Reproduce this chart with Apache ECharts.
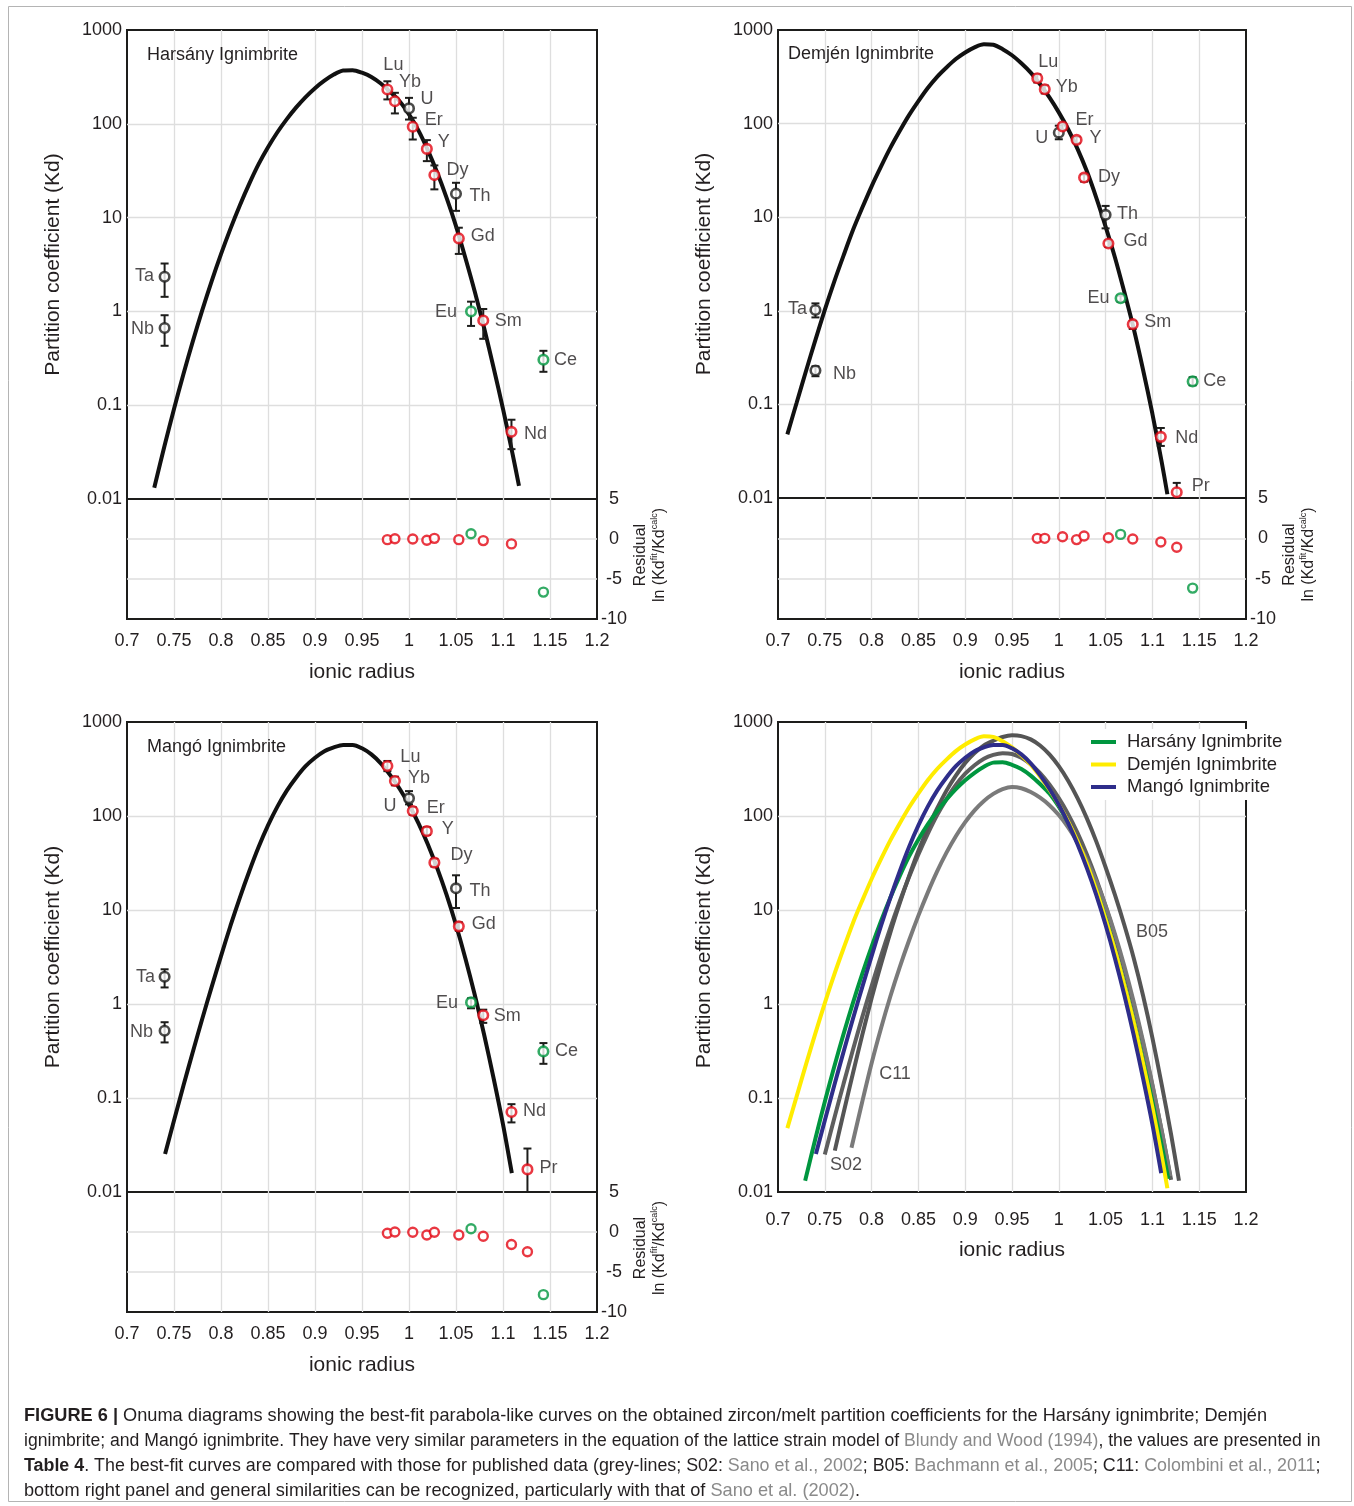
<!DOCTYPE html>
<html><head><meta charset="utf-8">
<script src="https://cdn.jsdelivr.net/npm/echarts@6/dist/echarts.min.js"></script>
<style>html,body{margin:0;padding:0;background:#fff}#c{width:1354px;height:1506px}</style>
</head><body><div id="c"></div>
<script>
// ---------------- DATA ----------------
const ELEMENTS = ['Lu','Yb','U','Er','Y','Dy','Th','Gd','Eu','Sm','Nd','Pr','Ce','Ta','Nb'];
const RADII    = [0.977,0.985,1.000,1.004,1.019,1.027,1.050,1.053,1.066,1.079,1.109,1.126,1.143,0.740,0.740];

// Harsány Ignimbrite (Kd, error-bar ends, residuals)
const HARSANY_KD   = [232,174,146,93,54,28.4,18,6.0,1.0,0.80,0.052,null,0.305,2.34,0.665];
const HARSANY_LOW  = [182,129,111,68,40,20,11.8,4.1,0.70,0.51,0.034,null,0.227,1.43,0.43];
const HARSANY_HIGH = [284,214,189,116,67,36,23.5,7.8,1.27,1.06,0.070,null,0.38,3.24,0.91];
const HARSANY_RES  = [-0.08,0.04,null,0,-0.16,0.08,null,-0.08,0.66,-0.2,-0.61,null,-6.64,null,null];
// best-fit curve (log10 Kd)
const HARSANY_FIT_X   = [0.729,0.74,0.75,0.76,0.77,0.78,0.79,0.80,0.81,0.82,0.83,0.84,0.85,0.86,0.87,0.88,0.89,0.90,0.91,0.92,0.93,0.94,0.95,0.96,0.97,0.98,0.99,1.00,1.01,1.02,1.03,1.04,1.05,1.06,1.07,1.08,1.09,1.10,1.11,1.117];
const HARSANY_FIT_LOG = [-1.88,-1.43,-1.04,-0.67,-0.32,0.01,0.32,0.61,0.88,1.13,1.36,1.57,1.75,1.91,2.05,2.175,2.285,2.38,2.46,2.525,2.568,2.572,2.545,2.50,2.43,2.34,2.24,2.10,1.93,1.72,1.48,1.21,0.91,0.57,0.21,-0.18,-0.60,-1.04,-1.51,-1.86];

// Demjén Ignimbrite
const DEMJEN_KD   = [305,233,80,93,67,26.5,10.6,5.24,1.36,0.72,0.045,0.0115,0.176,1.02,0.23];
const DEMJEN_LOW  = [275,210,68,86,62,24,7.6,4.8,1.25,0.64,0.036,0.0095,0.16,0.85,0.20];
const DEMJEN_HIGH = [335,255,95,100,72,28.5,13.2,5.6,1.45,0.78,0.056,0.0145,0.195,1.2,0.255];
const DEMJEN_RES  = [0,0,null,0.2,-0.16,0.29,null,0.08,0.49,-0.08,-0.45,-1.11,-6.17,null,null];
const DEMJEN_FIT_X   = [0.71,0.72,0.73,0.74,0.75,0.76,0.77,0.78,0.79,0.80,0.81,0.82,0.83,0.84,0.85,0.86,0.87,0.88,0.89,0.90,0.91,0.92,0.93,0.94,0.95,0.96,0.97,0.98,0.99,1.00,1.01,1.02,1.03,1.04,1.05,1.06,1.07,1.08,1.09,1.10,1.11,1.116];
const DEMJEN_FIT_LOG = [-1.32,-0.98,-0.64,-0.31,0.01,0.31,0.59,0.86,1.10,1.33,1.54,1.74,1.92,2.09,2.24,2.38,2.50,2.60,2.69,2.76,2.815,2.848,2.842,2.795,2.73,2.645,2.545,2.42,2.28,2.12,1.94,1.73,1.49,1.21,0.90,0.57,0.20,-0.19,-0.63,-1.10,-1.62,-1.96];

// Mangó Ignimbrite
const MANGO_KD   = [340,236,154,113,69,31.9,17,6.7,1.04,0.76,0.071,0.0174,0.313,1.95,0.52];
const MANGO_LOW  = [300,212,133,103,63,29,10.5,6.0,0.90,0.63,0.055,0.0100,0.231,1.5,0.39];
const MANGO_HIGH = [385,262,184,124,76,35,23.4,7.4,1.15,0.87,0.086,0.029,0.384,2.34,0.64];
const MANGO_RES  = [-0.16,0,null,-0.04,-0.37,-0.04,null,-0.37,0.41,-0.53,-1.56,-2.46,-7.83,null,null];
const MANGO_FIT_X   = [0.7405,0.75,0.76,0.77,0.78,0.79,0.80,0.81,0.82,0.83,0.84,0.85,0.86,0.87,0.88,0.89,0.90,0.91,0.92,0.93,0.94,0.95,0.96,0.97,0.98,0.99,1.00,1.01,1.02,1.03,1.04,1.05,1.06,1.07,1.08,1.09,1.10,1.1094];
const MANGO_FIT_LOG = [-1.595,-1.24,-0.87,-0.51,-0.16,0.18,0.51,0.83,1.13,1.41,1.67,1.90,2.10,2.27,2.41,2.53,2.62,2.69,2.73,2.755,2.755,2.72,2.655,2.56,2.435,2.29,2.12,1.925,1.70,1.445,1.16,0.84,0.485,0.095,-0.33,-0.79,-1.28,-1.80];

// Published curves (grey lines), log10 Kd
const S02_X   = [0.75,0.76,0.77,0.78,0.79,0.80,0.81,0.82,0.83,0.84,0.85,0.86,0.87,0.88,0.89,0.90,0.91,0.92,0.93,0.94,0.95,0.96,0.97,0.98,0.99,1.00,1.01,1.02,1.03,1.04,1.05,1.06,1.07,1.08,1.09,1.10,1.11,1.12];
const S02_LOG = [-1.60,-1.22,-0.85,-0.49,-0.14,0.19,0.51,0.81,1.09,1.35,1.59,1.81,2.01,2.18,2.33,2.45,2.54,2.61,2.65,2.668,2.66,2.62,2.55,2.455,2.335,2.19,2.02,1.82,1.59,1.33,1.04,0.72,0.37,-0.01,-0.42,-0.87,-1.35,-1.87];
const B05_X   = [0.7607,0.77,0.78,0.79,0.80,0.81,0.82,0.83,0.84,0.85,0.86,0.87,0.88,0.89,0.90,0.91,0.92,0.93,0.94,0.95,0.96,0.97,0.98,0.99,1.00,1.01,1.02,1.03,1.04,1.05,1.06,1.07,1.08,1.09,1.10,1.11,1.12,1.1284];
const B05_LOG = [-1.56,-1.16,-0.74,-0.33,0.06,0.42,0.76,1.07,1.36,1.63,1.87,2.08,2.27,2.43,2.565,2.67,2.75,2.80,2.84,2.858,2.85,2.815,2.75,2.655,2.53,2.375,2.19,1.975,1.73,1.455,1.16,0.84,0.49,0.09,-0.36,-0.86,-1.39,-1.88];
const C11_X   = [0.7785,0.79,0.80,0.81,0.82,0.83,0.84,0.85,0.86,0.87,0.88,0.89,0.90,0.91,0.92,0.93,0.94,0.95,0.96,0.97,0.98,0.99,1.00,1.01,1.02,1.03,1.04,1.05,1.06,1.07,1.08,1.09,1.10,1.11,1.119];
const C11_LOG = [-1.53,-1.04,-0.63,-0.26,0.08,0.39,0.675,0.94,1.185,1.41,1.61,1.785,1.935,2.06,2.16,2.235,2.285,2.308,2.295,2.255,2.195,2.115,2.01,1.88,1.72,1.53,1.305,1.045,0.745,0.405,0.025,-0.395,-0.855,-1.355,-1.83];

const CURVE_TAGS   = ['B05','C11','S02'];
const CURVE_TAG_X  = [1.0996,0.825,0.7726];
const CURVE_TAG_KD = [5.83,0.18,0.0194];

const X_MIN = 0.7, X_MAX = 1.2, X_STEP = 0.05;
const KD_MIN = 0.01, KD_MAX = 1000;
const RES_MIN = -10, RES_MAX = 5, RES_STEP = 5;

// ---------------- STYLE ----------------
const FONT = '"Liberation Sans", Arial, Helvetica, sans-serif';
const TXT = '#231f20';
const RED = '#e30613', GREEN = '#00963f', BLACK = '#1d1d1b';
const POINT_COLOR = {Lu:RED,Yb:RED,U:BLACK,Er:RED,Y:RED,Dy:RED,Th:BLACK,Gd:RED,Eu:GREEN,Sm:RED,Nd:RED,Pr:RED,Ce:GREEN,Ta:BLACK,Nb:BLACK};
const LABEL_OFF_H = {Lu:[6,-24],Yb:[15,-19],U:[18,-9],Er:[21,-7],Y:[17,-7],Dy:[23,-5],Th:[24,2],Gd:[24,-2],Eu:[-25,1],Sm:[25,1],Ce:[22,0],Nd:[24,2],Ta:[-20,-1],Nb:[-22,1]};
const LABEL_OFF_D = {Lu:[11,-16],Yb:[22,-2],Er:[22,-7],U:[-17,5],Y:[19,-2],Dy:[25,-1],Th:[22,-1],Gd:[27,-2],Eu:[-22,0],Sm:[25,-2],Ta:[-18,-1],Nb:[29,3],Ce:[22,0],Nd:[26,1],Pr:[24,-6]};
const LABEL_OFF_M = {Lu:[23,-9],Yb:[24,-3],U:[-19,8],Er:[23,-3],Y:[21,-2],Dy:[27,-8],Th:[24,3],Gd:[25,-2],Eu:[-24,1],Sm:[24,1],Ta:[-19,0],Nb:[-23,1],Ce:[23,0],Nd:[23,-1],Pr:[21,-1]};

const PANELS = [
  {title:'Harsány Ignimbrite', titlePos:[147,46], main:{left:127,top:30,width:470,height:469}, res:{left:127,top:499,width:470,height:120},
   kd:HARSANY_KD, lo:HARSANY_LOW, hi:HARSANY_HIGH, resid:HARSANY_RES, fx:HARSANY_FIT_X, fy:HARSANY_FIT_LOG, off:LABEL_OFF_H},
  {title:'Demjén Ignimbrite', titlePos:[788,45], main:{left:778,top:30,width:468,height:468}, res:{left:778,top:498,width:468,height:121},
   kd:DEMJEN_KD, lo:DEMJEN_LOW, hi:DEMJEN_HIGH, resid:DEMJEN_RES, fx:DEMJEN_FIT_X, fy:DEMJEN_FIT_LOG, off:LABEL_OFF_D},
  {title:'Mangó Ignimbrite', titlePos:[147,738], main:{left:127,top:722,width:470,height:470}, res:{left:127,top:1192,width:470,height:120},
   kd:MANGO_KD, lo:MANGO_LOW, hi:MANGO_HIGH, resid:MANGO_RES, fx:MANGO_FIT_X, fy:MANGO_FIT_LOG, off:LABEL_OFF_M}
];

function fmtX(v){ return String(Math.round(v*100)/100); }
function fmtLog(v){ return v >= 1 ? String(Math.round(v)) : String(parseFloat(v.toPrecision(2))); }
// curve values are read as log10(Kd); plot them on the library's log axis as Kd
function curveData(xs, logs){ return xs.map((x,i)=>[x, Math.pow(10, logs[i])]); }

const grids = [], xAxes = [], yAxes = [], series = [], titles = [], graphics = [];
const gridBase = {show:true, borderColor:BLACK, borderWidth:2, backgroundColor:'transparent', containLabel:false, outerBoundsMode:'none'};
const splitX = {show:true, showMinLine:false, showMaxLine:false, lineStyle:{color:'#dedede', width:1.3}};
const lblStyle = {color:TXT, fontSize:18, fontFamily:FONT};
const nameStyle = {fontSize:21, color:TXT, fontFamily:FONT};

function mainAxes(gi, showX){
  xAxes.push({type:'value', gridIndex:gi, min:X_MIN, max:X_MAX, interval:X_STEP,
    axisLine:{show:false}, axisTick:{show:false}, splitLine:splitX,
    axisLabel: showX ? Object.assign({show:true, margin:19, formatter:fmtX}, lblStyle) : {show:false},
    name: showX ? 'ionic radius' : '', nameLocation:'middle', nameGap:48, nameTextStyle:nameStyle});
  yAxes.push({type:'log', logBase:10, gridIndex:gi, min:KD_MIN, max:KD_MAX,
    axisLine:{show:false}, axisTick:{show:false},
    splitLine:{show:true, showMinLine:false, showMaxLine:false, lineStyle:{color:'#dedede', width:1.3}},
    axisLabel:Object.assign({show:true, margin:5, formatter:fmtLog}, lblStyle),
    name:'Partition coefficient (Kd)', nameLocation:'middle', nameGap:63, nameTextStyle:nameStyle});
}

PANELS.forEach((p, pi) => {
  const gm = grids.length;
  grids.push(Object.assign({}, gridBase, p.main));
  mainAxes(gm, false);
  const gr = grids.length;
  grids.push(Object.assign({}, gridBase, p.res));
  xAxes.push({type:'value', gridIndex:gr, min:X_MIN, max:X_MAX, interval:X_STEP,
    axisLine:{show:false}, axisTick:{show:false}, splitLine:splitX,
    axisLabel:Object.assign({show:true, margin:13, formatter:fmtX}, lblStyle),
    name:'ionic radius', nameLocation:'middle', nameGap:43, nameTextStyle:nameStyle});
  yAxes.push({type:'value', gridIndex:gr, position:'right', min:RES_MIN, max:RES_MAX, interval:RES_STEP,
    axisLine:{show:false}, axisTick:{show:false},
    splitLine:{show:true, showMinLine:false, showMaxLine:false, lineStyle:{color:['#dedede','#dedede','#c4c4c4','#dedede'], width:1.5}},
    axisLabel:Object.assign({show:true, margin:17, align:'center'}, lblStyle)});

  titles.push({text:p.title, left:p.titlePos[0], top:p.titlePos[1], padding:0,
    textStyle:{fontSize:18, fontWeight:'normal', color:TXT, fontFamily:FONT}});

  // fitted curve
  series.push({type:'line', name:'fit'+pi, xAxisIndex:gm, yAxisIndex:gm, data:curveData(p.fx,p.fy),
    smooth:0.3, symbol:'none', z:2, silent:true, lineStyle:{color:'#111', width:4}});

  // error bars
  const eb = [];
  ELEMENTS.forEach((el,i)=>{ if(p.kd[i]!=null) eb.push([RADII[i], p.lo[i], p.hi[i]]); });
  series.push({type:'custom', name:'err'+pi, xAxisIndex:gm, yAxisIndex:gm, data:eb, z:3, clip:true, silent:true,
    encode:{x:0, y:[1,2]},
    renderItem:function(params, api){
      const x = api.value(0);
      const a = api.coord([x, api.value(2)]), b = api.coord([x, api.value(1)]);
      const w = 4, st = {stroke:BLACK, lineWidth:2};
      return {type:'group', children:[
        {type:'line', shape:{x1:a[0],y1:a[1],x2:b[0],y2:b[1]}, style:st},
        {type:'line', shape:{x1:a[0]-w,y1:a[1],x2:a[0]+w,y2:a[1]}, style:st},
        {type:'line', shape:{x1:b[0]-w,y1:b[1],x2:b[0]+w,y2:b[1]}, style:st}
      ]};
    }});

  // points
  const pts = [];
  ELEMENTS.forEach((el,i)=>{
    if(p.kd[i]==null) return;
    pts.push({value:[RADII[i], p.kd[i]], name:el,
      itemStyle:{color:'#fff', borderColor:POINT_COLOR[el], borderWidth:2.6},
      label:{offset:p.off[el] || [20,0]}});
  });
  series.push({type:'scatter', name:'pts'+pi, xAxisIndex:gm, yAxisIndex:gm, data:pts, symbol:'circle', symbolSize:9.5, z:5, silent:true,
    label:{show:true, position:'inside', formatter:'{b}', color:TXT, fontSize:18, fontFamily:FONT, align:'center', verticalAlign:'middle'}});

  // residuals
  const rs = [];
  ELEMENTS.forEach((el,i)=>{
    if(p.resid[i]==null) return;
    rs.push({value:[RADII[i], p.resid[i]], itemStyle:{color:'#fff', borderColor:POINT_COLOR[el], borderWidth:2.4}});
  });
  series.push({type:'scatter', name:'res'+pi, xAxisIndex:gr, yAxisIndex:gr, data:rs, symbol:'circle', symbolSize:9, z:5, silent:true});

  // residual axis name
  const g = p.res;
  graphics.push({type:'text', x:g.left+g.width+53, y:g.top+g.height/2-4, rotation:Math.PI/2,
    style:{text:'Residual\nln (Kd{s|fit}/Kd{s|calc})', align:'center', verticalAlign:'middle', fill:TXT,
      font:'16px '+FONT, lineHeight:19, rich:{s:{fontSize:9, verticalAlign:'top', fill:TXT, lineHeight:19}}}});
});

// bottom-right comparison panel
const gb = grids.length;
grids.push(Object.assign({}, gridBase, {left:778, top:722, width:468, height:470}));
mainAxes(gb, true);
const grey = [
  {name:'S02', x:S02_X, y:S02_LOG, c:'#5e5e5e'},
  {name:'B05', x:B05_X, y:B05_LOG, c:'#555555'},
  {name:'C11', x:C11_X, y:C11_LOG, c:'#7a7a7a'}
];
grey.forEach(g => series.push({type:'line', name:g.name, xAxisIndex:gb, yAxisIndex:gb, data:curveData(g.x,g.y),
  smooth:0.3, symbol:'none', z:2, silent:true, lineStyle:{color:g.c, width:4}}));
const colored = [
  {name:'Harsány Ignimbrite', x:HARSANY_FIT_X, y:HARSANY_FIT_LOG, c:'#00963f'},
  {name:'Demjén Ignimbrite', x:DEMJEN_FIT_X, y:DEMJEN_FIT_LOG, c:'#ffec00'},
  {name:'Mangó Ignimbrite', x:MANGO_FIT_X, y:MANGO_FIT_LOG, c:'#2e2d8a'}
];
colored.forEach((g,k) => series.push({type:'line', name:g.name, xAxisIndex:gb, yAxisIndex:gb, data:curveData(g.x,g.y),
  smooth:0.3, symbol:'none', z:3+k*0.1, silent:true, color:g.c, lineStyle:{color:g.c, width:4}}));
series.push({type:'scatter', name:'tags', xAxisIndex:gb, yAxisIndex:gb, symbolSize:0, silent:true, z:6,
  data:CURVE_TAGS.map((t,i)=>({value:[CURVE_TAG_X[i], CURVE_TAG_KD[i]], name:t})),
  label:{show:true, position:'inside', formatter:'{b}', color:TXT, fontSize:18, fontFamily:FONT, align:'center', verticalAlign:'middle'}});

// outer frame + caption
graphics.push({type:'rect', shape:{x:8.5, y:6.5, width:1343, height:1495}, style:{fill:'none', stroke:'#b4b4b4', lineWidth:1}, z:-10});
const CAPTION = [
  '{b|FIGURE 6 |} Onuma diagrams showing the best-fit parabola-like curves on the obtained zircon/melt partition coefficients for the Harsány ignimbrite; Demjén',
  'ignimbrite; and Mangó ignimbrite. They have very similar parameters in the equation of the lattice strain model of {g|Blundy and Wood (1994)}, the values are presented in',
  '{b|Table 4}. The best-fit curves are compared with those for published data (grey-lines; S02: {g|Sano et al., 2002}; B05: {g|Bachmann et al., 2005}; C11: {g|Colombini et al., 2011};',
  'bottom right panel and general similarities can be recognized, particularly with that of {g|Sano et al. (2002)}.'
];
const CAP_FS = [18.2, 17.6, 17.85, 18.2];
CAPTION.forEach((line,i)=>{
  const fs = CAP_FS[i];
  graphics.push({type:'text', x:24, y:1416+i*25, style:{text:line, fill:TXT, font:fs+'px '+FONT, verticalAlign:'middle', align:'left',
    rich:{b:{fontWeight:'bold', fill:TXT, fontSize:fs, fontFamily:FONT}, g:{fill:'#8a8a8a', fontSize:fs, fontFamily:FONT}}}});
});

const chart = echarts.init(document.getElementById('c'), null, {renderer:'canvas'});
chart.setOption({
  animation:false,
  backgroundColor:'#ffffff',
  textStyle:{fontFamily:FONT},
  title:titles,
  legend:{data:colored.map(c=>c.name), orient:'vertical', left:1088, top:729, icon:'rect', itemWidth:25, itemHeight:4,
    itemGap:2.5, padding:[3,6,3,3], backgroundColor:'#ffffff', selectedMode:false,
    textStyle:{fontSize:18.5, color:TXT, fontFamily:FONT, lineHeight:20, padding:[0,0,0,6]}},
  grid:grids, xAxis:xAxes, yAxis:yAxes, series:series, graphic:graphics
});
</script>
</body></html>
